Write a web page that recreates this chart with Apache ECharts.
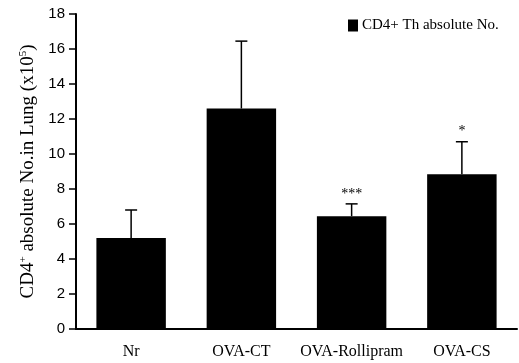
<!DOCTYPE html>
<html>
<head>
<meta charset="utf-8">
<script src="https://cdn.jsdelivr.net/npm/echarts@6/dist/echarts.min.js"></script>
<style>
html,body{margin:0;padding:0;background:#fff;}
#chart{width:519px;height:363px;}
</style>
</head>
<body>
<div id="chart"></div>
<script>
var groups = ['Nr', 'OVA-CT', 'OVA-Rollipram', 'OVA-CS'];
var meanVals = [5.2, 12.6, 6.45, 8.85];
var errTops = [6.8, 16.45, 7.15, 10.7];
var sigMarks = ['', '', '***', '*'];

var errData = [];
for (var i = 0; i < groups.length; i++) {
    errData.push([i, meanVals[i], errTops[i]]);
}

var myChart = echarts.init(document.getElementById('chart'));
var option = {
    animation: false,
    grid: {left: 76, right: 2, top: 14, bottom: 34},
    legend: {
        data: [{name: 'CD4+ Th absolute No.', icon: 'rect'}],
        left: 343, top: 13,
        itemWidth: 10, itemHeight: 12, itemGap: 4,
        textStyle: {fontFamily: 'Liberation Serif', fontSize: 15, color: '#000', padding: [0, 0, 0, -1]}
    },
    xAxis: {
        type: 'category',
        data: groups,
        axisLine: {lineStyle: {color: '#000', width: 2}},
        axisTick: {length: 5, lineStyle: {color: '#000', width: 2}},
        axisLabel: {interval: 0, fontFamily: 'Liberation Serif', fontSize: 16, color: '#000', margin: 15}
    },
    yAxis: {
        type: 'value',
        min: 0, max: 18, interval: 2,
        splitLine: {show: false},
        axisLine: {show: true, lineStyle: {color: '#000', width: 2}},
        axisTick: {show: true, length: 7, lineStyle: {color: '#000', width: 1.5}},
        axisLabel: {fontFamily: 'Liberation Sans', fontSize: 15, color: '#000', margin: 11},
        name: 'CD4{sup|+} absolute No.in Lung (x10{sup|5})',
        nameLocation: 'middle',
        nameGap: 38,
        nameTextStyle: {
            fontFamily: 'Liberation Serif', fontSize: 19, color: '#000',
            rich: {sup: {fontFamily: 'Liberation Serif', fontSize: 11, color: '#000', verticalAlign: 'top', padding: [0, 0, 9, 0]}}
        }
    },
    series: [
        {
            name: 'CD4+ Th absolute No.',
            type: 'bar',
            data: meanVals,
            barWidth: '63%',
            itemStyle: {color: '#000'}
        },
        {
            type: 'custom',
            data: errData,
            z: 1,
            renderItem: function (params, api) {
                var base = api.coord([api.value(0), api.value(1)]);
                var top = api.coord([api.value(0), api.value(2)]);
                var mark = sigMarks[params.dataIndex];
                var kids = [
                    {type: 'line', shape: {x1: base[0], y1: base[1], x2: top[0], y2: top[1]}, style: {stroke: '#000', lineWidth: 1.5}},
                    {type: 'line', shape: {x1: top[0] - 6, y1: top[1], x2: top[0] + 6, y2: top[1]}, style: {stroke: '#000', lineWidth: 1.5}}
                ];
                if (mark) {
                    kids.push({type: 'text', x: top[0], y: top[1] - 3, style: {text: mark, fill: '#000', font: '14px Liberation Serif', align: 'center', verticalAlign: 'bottom'}});
                }
                return {type: 'group', children: kids};
            }
        }
    ]
};
myChart.setOption(option);
</script>
</body>
</html>
